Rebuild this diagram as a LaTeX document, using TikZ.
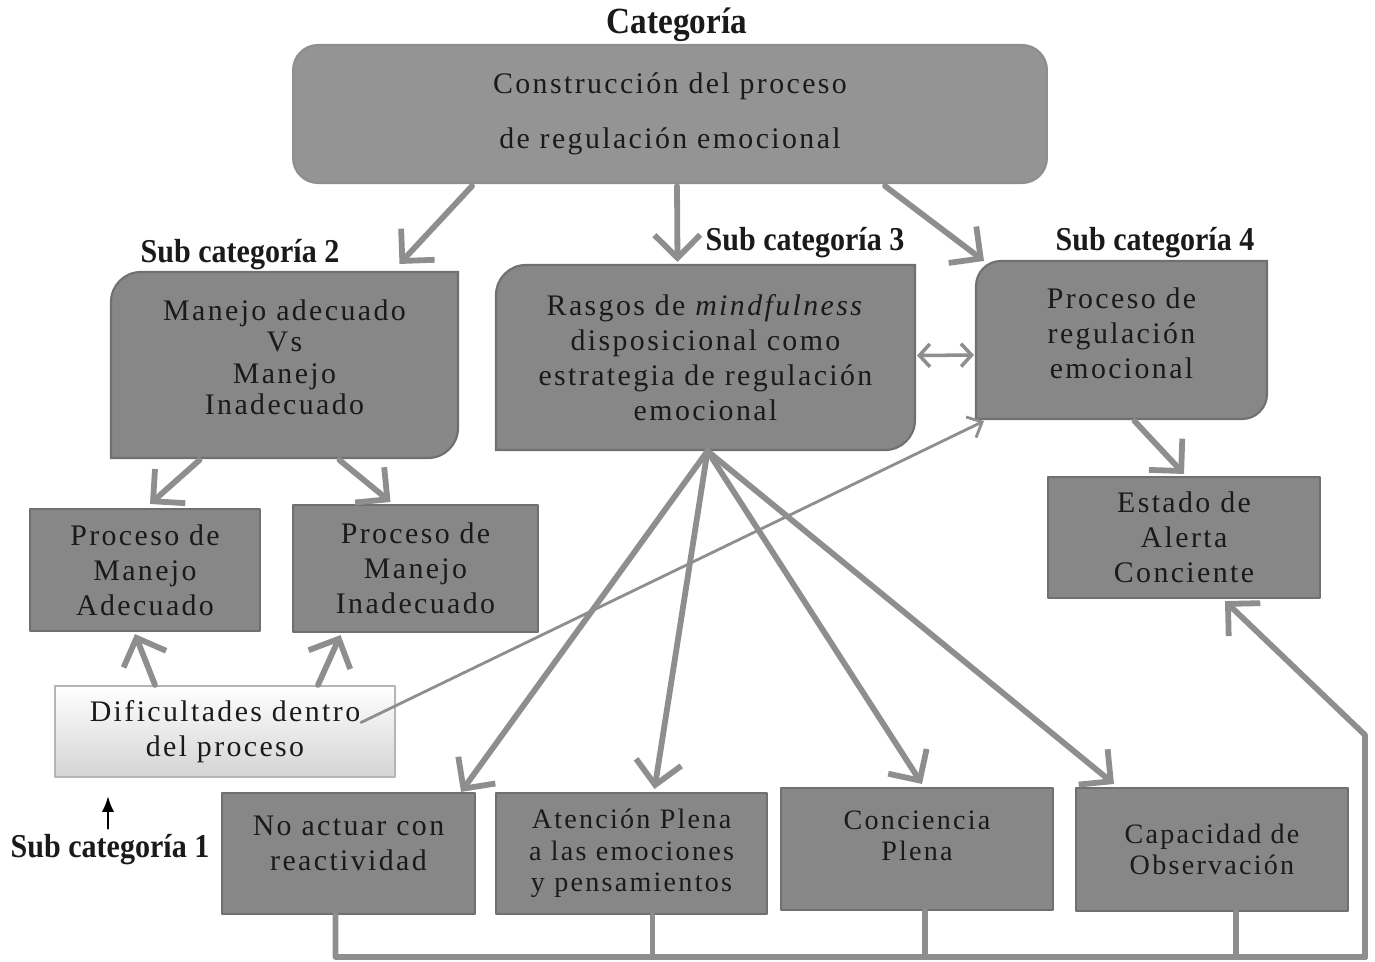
\documentclass[tikz,border=0pt]{standalone}
\usepackage{fontspec}
\setmainfont{Liberation Serif}
\newfontfamily\boxfont{Liberation Serif}[LetterSpace=8]
\newfontfamily\tagfont{Liberation Serif}[FakeStretch=0.9]
\usetikzlibrary{arrows.meta,calc,backgrounds}
\definecolor{ink}{HTML}{1A1A1A}
\definecolor{boxgray}{HTML}{878787}
\definecolor{edgegray}{HTML}{707070}
\definecolor{topgray}{HTML}{949494}
\definecolor{linkgray}{HTML}{8E8E8E}
\definecolor{lightedge}{HTML}{B5B5B5}

\newcommand\leafbox[1]{%
  \filldraw[leafshape]
    ([yshift=-\leafr]#1.north west) arc[start angle=180,end angle=90,radius=\leafr]
    -- (#1.north east) -- ([yshift=\leafr]#1.south east)
    arc[start angle=0,end angle=-90,radius=\leafr] -- (#1.south west) -- cycle;}
\newcommand\textlift[1]{\rule[-#1]{0pt}{0pt}}

\begin{document}
\begin{tikzpicture}[x=0.02cm,y=0.02cm,text=ink,>=Latex,line cap=round,line join=round,
  box/.style={draw=edgegray,fill=boxgray,line width=1.2pt,align=center,inner sep=0pt,
    font=\boxfont\fontsize{17}{20}\selectfont},
  leaf/.style={box,draw=none,fill=none},
  leafshape/.style={fill=boxgray,draw=edgegray,line width=1.2pt},
  low/.style={box,font=\boxfont\fontsize{16}{18}\selectfont},
  tag/.style={font=\tagfont\bfseries\fontsize{19}{21}\selectfont},
  link/.style={draw=linkgray,line width=3.3pt,-{Straight Barb[length=13pt,width=26pt]}},
  thinlink/.style={link,line width=1.6pt,-{Straight Barb[length=7pt,width=13pt]}},
  twoway/.style={draw=linkgray,line width=2pt,
    {Straight Barb[length=6pt,width=13pt]}-{Straight Barb[length=6pt,width=13pt]}}]
  \useasboundingbox (0,0) rectangle (1375,-961);

  \node[tag,font=\tagfont\bfseries\fontsize{21}{23}\selectfont] (cattag) at (677,-25) {Categoría};
  \node[box,fill=topgray,draw=linkgray,rounded corners=0.5cm,
        minimum width=15.08cm,minimum height=2.76cm] (cat) at (670,-114)
    {Construcción del proceso\\[11pt] de regulación emocional};

  \node[tag] (tag2) at (240,-255) {Sub categoría 2};
  \node[leaf,minimum width=6.9cm,minimum height=3.68cm,
        font=\boxfont\fontsize{17}{18}\selectfont] (sub2) at (284.5,-365)
    {Manejo adecuado\\ Vs\\ Manejo\\ Inadecuado\textlift{9pt}};
  \node[tag] (tag3) at (805,-243) {Sub categoría 3};
  \node[leaf,minimum width=8.34cm,minimum height=3.66cm] (sub3) at (705.5,-357.5)
    {Rasgos de \textit{mindfulness}\\ disposicional como\\ estrategia de regulación\\ emocional};
  \node[tag] (tag4) at (1155,-243) {Sub categoría 4};
  \node[leaf,minimum width=5.78cm,minimum height=3.12cm] (sub4) at (1121.5,-340)
    {Proceso de\\ regulación\\ emocional\textlift{8pt}};

  \node[box,minimum width=4.6cm,minimum height=2.44cm] (adec) at (145,-570)
    {Proceso de\\ Manejo\\ Adecuado};
  \node[box,minimum width=4.9cm,minimum height=2.54cm] (inadec) at (415.5,-568.5)
    {Proceso de\\ Manejo\\ Inadecuado};
  \node[box,draw=lightedge,top color=white,bottom color=black!17,
        minimum width=6.8cm,minimum height=1.82cm] (dific) at (225,-731.5)
    {Dificultades dentro\\ del proceso};
  \node[box,minimum width=5.44cm,minimum height=2.42cm] (alerta) at (1184,-537.5)
    {Estado de\\ Alerta\\ Conciente};

  \node[tag] (tag1) at (110,-850) {Sub categoría 1};
  \node[box,minimum width=5.06cm,minimum height=2.42cm] (noact) at (348.5,-853.5)
    {No actuar con\\ reactividad\textlift{12pt}};
  \node[low,minimum width=5.42cm,minimum height=2.42cm] (atenc) at (631.5,-853.5)
    {Atención Plena\\ a las emociones\\ y pensamientos};
  \node[low,minimum width=5.44cm,minimum height=2.44cm] (concie) at (917,-849)
    {Conciencia\\ Plena\textlift{15pt}};
  \node[low,minimum width=5.44cm,minimum height=2.46cm] (capac) at (1212,-849.5)
    {Capacidad de\\ Observación};

  \begin{scope}[on background layer]
    \def\leafr{0.6cm}
    \leafbox{sub2}
    \leafbox{sub3}
    \def\leafr{0.5cm}
    \leafbox{sub4}
  \end{scope}

  \draw[link] ($(cat.south)+(-198,-2)$) -- ($(sub2.north)+(115,8)$);
  \draw[link] ($(cat.south)+(7,-2)$) -- ($(sub3.north)+(-28,3)$);
  \draw[link] ($(cat.south)+(215,-2)$) -- ($(sub4.north west)+(8,0)$);
  \draw[twoway] ($(sub3.east)+(2,2)$) -- ($(sub4.west)+(-2,-15)$);

  \draw[link] ($(sub2.south)+(-85,-2)$) -- ($(adec.north)+(5,4)$);
  \draw[link] ($(sub2.south)+(55,-2)$) -- ($(inadec.north)+(-25,2)$);
  \draw[link] ($(sub4.south)+(13,-2)$) -- ($(alerta.north)+(0,2)$);
  \draw[link] ($(dific.north)+(-70,0)$) -- ($(adec.south)+(-10,-2)$);
  \draw[link] ($(dific.north)+(93,0)$) -- ($(inadec.south)+(-75,-2)$);
  \draw[thinlink] ($(dific.east)+(-35,9)$) -- ($(sub4.south west)+(8,-2)$);
  \draw[-{Latex[length=9pt,width=7pt]},line width=1.3pt]
    ($(tag1.north)+(-2,0)$) -- ($(dific.south)+(-117,-18)$);

  \foreach \dest/\dx/\dy in {noact.north east/-15/0,atenc.north/23/3,
                             concie.north/5/3,capac.north west/39/3}
    \draw[link] ($(sub3.south)+(2,-1)$) -- ($(\dest)+(\dx,\dy)$);

  \coordinate (fbcorner) at (1365,-957);
  \coordinate (fbbend) at (1365,-735);
  \draw[link] ($(noact.south)+(-13,0)$) |- (fbcorner) -- (fbbend)
    -- ($(alerta.south)+(41,-2)$);
  \foreach \src/\dx in {atenc/21,concie/8,capac/24}
    \draw[link,-] ($(\src.south)+(\dx,0)$) |- (fbcorner);
\end{tikzpicture}
\end{document}
